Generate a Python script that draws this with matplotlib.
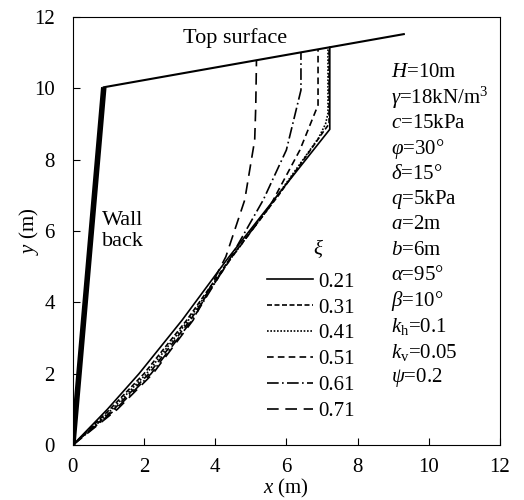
import matplotlib
matplotlib.use('Agg')
from matplotlib import pyplot as plt

plt.rcParams['font.family'] = ['Liberation Serif', 'DejaVu Serif']
plt.rcParams['mathtext.fontset'] = 'custom'
plt.rcParams['mathtext.rm'] = 'Liberation Serif'
plt.rcParams['mathtext.it'] = 'Liberation Serif:italic'
plt.rcParams['mathtext.bf'] = 'Liberation Serif:bold'

# Wall back and top surface (m)
wall_x = [0, 0.87]
wall_y = [0, 10.03]
surface_x = [0.87, 9.3]
surface_y = [10.03, 11.52]

# Slip surfaces for each xi
xi_labels = ['0.21', '0.31', '0.41', '0.51', '0.61', '0.71']
slip_x = [
    [0, 0.97, 1.86, 3.07, 4.33, 5.75, 7.22, 7.22],
    [0, 1.04, 2.0, 3.2, 4.4, 5.78, 7.05, 7.2, 7.2],
    [0, 1.1, 2.07, 3.25, 4.42, 5.75, 6.9, 7.1, 7.17, 7.17],
    [0, 1.15, 2.14, 3.3, 4.42, 5.53, 6.38, 6.89, 6.89],
    [0, 1.2, 2.2, 3.35, 4.4, 5.35, 6.0, 6.41, 6.41],
    [0, 1.25, 2.25, 3.38, 4.3, 4.83, 5.11, 5.14, 5.16],
]
slip_y = [
    [0, 1, 2, 3.5, 5.2, 7.0, 8.85, 11.15],
    [0, 1, 2, 3.5, 5.2, 7.0, 8.8, 9.0, 11.15],
    [0, 1, 2, 3.5, 5.2, 7.0, 8.6, 9.0, 9.3, 11.14],
    [0, 1, 2, 3.5, 5.2, 6.68, 8.27, 9.53, 11.09],
    [0, 1, 2, 3.5, 5.2, 6.87, 8.27, 9.95, 11.01],
    [0, 1, 2, 3.5, 5.28, 6.87, 8.55, 9.5, 10.79],
]
dashes = [None, (3, 1.5), (1, 1), (4, 2.5), (7, 2, 1, 2), (7, 4)]

params = [r'$H$=10m', r'$\gamma$=18kN/m$^3$', r'$c$=15kPa', r'$\varphi$=30°',
          r'$\delta$=15°', r'$q$=5kPa', r'$a$=2m', r'$b$=6m', r'$\alpha$=95°',
          r'$\beta$=10°', r'$k_\mathrm{h}$=0.1', r'$k_\mathrm{v}$=0.05', r'$\psi$=0.2']

fig = plt.figure(figsize=(5.24, 5.0), dpi=100)
ax = fig.add_axes([0.139, 0.11, 0.815, 0.856])

ax.plot(wall_x, wall_y, color='black', lw=4, solid_capstyle='butt')
ax.plot(surface_x, surface_y, color='black', lw=1.5)

for xs, ys, lab, d in zip(slip_x, slip_y, xi_labels, dashes):
    line, = ax.plot(xs, ys, color='black', lw=1.2, label=lab)
    if d is not None:
        line.set_dashes(d)

ax.text(4.55, 11.42, 'Top surface', fontsize=16, ha='center', va='center')
ax.text(0.82, 6.0, 'Wall\nback', fontsize=16, ha='left', va='center', linespacing=1.2)

for i, p in enumerate(params):
    ax.text(8.95, 10.45 - i * 0.713, p, fontsize=15, ha='left', va='center')

# legend title drawn as its own text
ax.text(6.89, 5.52, r'$\xi$', fontsize=15, ha='center', va='center')
leg = ax.legend(loc='upper left', bbox_to_anchor=(0.455, 0.404), frameon=False,
                fontsize=15, handlelength=2.2, handletextpad=0.25,
                labelspacing=0.3, borderaxespad=0, borderpad=0)

ax.set_xlim(0, 12)
ax.set_ylim(0, 12)
ax.set_xticks(range(0, 13, 2))
ax.set_yticks(range(0, 13, 2))
ax.tick_params(direction='in', labelsize=15, length=5)
ax.tick_params(axis='x', pad=9)
ax.tick_params(axis='y', pad=13)
ax.set_xlabel('$x$ (m)', fontsize=15, labelpad=0)
ax.set_ylabel('$y$ (m)', fontsize=15, labelpad=-5)

plt.savefig('out.png', dpi=100)
